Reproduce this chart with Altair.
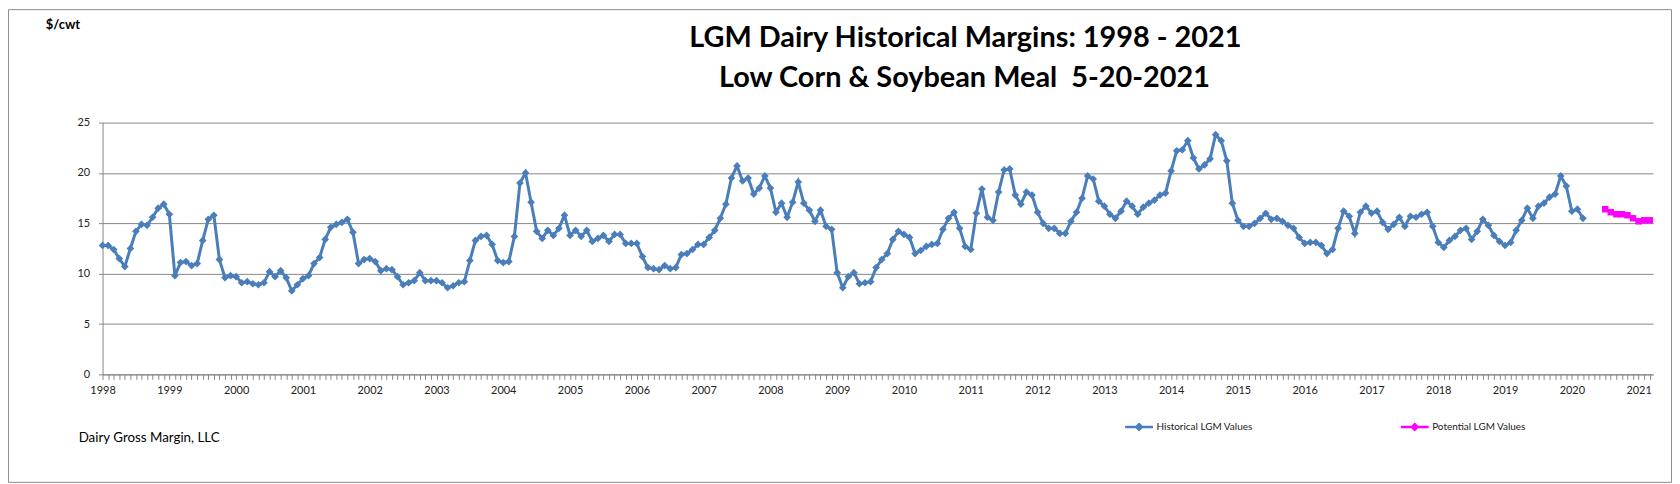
import altair as alt
import pandas as pd

# ---- data ----
y1998 = [12.8, 12.8, 12.4, 11.5, 10.7, 12.5, 14.2, 14.9, 14.8, 15.6, 16.5, 16.9]
y1999 = [15.9, 9.8, 11.1, 11.2, 10.8, 11.0, 13.3, 15.4, 15.8, 11.4, 9.6, 9.8]
y2000 = [9.7, 9.1, 9.2, 9.0, 8.9, 9.1, 10.2, 9.7, 10.3, 9.6, 8.3, 8.9]
y2001 = [9.5, 9.8, 11.0, 11.6, 13.4, 14.6, 14.9, 15.1, 15.4, 14.1, 11.0, 11.4]
y2002 = [11.5, 11.2, 10.3, 10.5, 10.4, 9.7, 8.9, 9.1, 9.3, 10.1, 9.3, 9.3]
y2003 = [9.3, 9.1, 8.6, 8.8, 9.1, 9.2, 11.3, 13.3, 13.7, 13.8, 12.9, 11.3]
y2004 = [11.1, 11.2, 13.7, 19.0, 20.0, 17.1, 14.2, 13.5, 14.3, 13.8, 14.5, 15.8]
y2005 = [13.8, 14.3, 13.7, 14.3, 13.2, 13.5, 13.8, 13.2, 13.9, 13.9, 13.0, 13.0]
y2006 = [13.0, 11.7, 10.6, 10.5, 10.4, 10.8, 10.5, 10.6, 11.9, 12.0, 12.4, 12.9]
y2007 = [12.9, 13.6, 14.3, 15.5, 16.9, 19.5, 20.7, 19.2, 19.5, 17.9, 18.5, 19.7]
y2008 = [18.5, 16.1, 17.0, 15.6, 17.1, 19.1, 17.0, 16.3, 15.2, 16.3, 14.7, 14.4]
y2009 = [10.1, 8.6, 9.7, 10.1, 9.0, 9.1, 9.2, 10.6, 11.4, 12.0, 13.4, 14.2]
y2010 = [13.9, 13.6, 12.0, 12.3, 12.7, 12.9, 13.0, 14.4, 15.5, 16.1, 14.5, 12.7]
y2011 = [12.4, 16.0, 18.4, 15.6, 15.3, 18.1, 20.3, 20.4, 17.8, 16.9, 18.1, 17.8]
y2012 = [16.1, 15.0, 14.5, 14.5, 14.0, 14.0, 15.2, 16.1, 17.5, 19.7, 19.4, 17.2]
y2013 = [16.7, 15.9, 15.5, 16.2, 17.2, 16.7, 15.9, 16.6, 17.0, 17.3, 17.8, 18.0]
y2014 = [20.2, 22.2, 22.3, 23.2, 21.5, 20.4, 20.8, 21.4, 23.8, 23.2, 21.2, 17.0]
y2015 = [15.3, 14.7, 14.7, 15.0, 15.5, 16.0, 15.4, 15.5, 15.2, 14.8, 14.5, 13.6]
y2016 = [13.0, 13.1, 13.1, 12.8, 12.0, 12.4, 14.5, 16.2, 15.7, 14.0, 16.1, 16.7]
y2017 = [16.0, 16.2, 15.1, 14.4, 14.9, 15.6, 14.7, 15.7, 15.6, 15.9, 16.1, 14.7]
y2018 = [13.1, 12.6, 13.3, 13.7, 14.3, 14.5, 13.4, 14.2, 15.4, 14.8, 13.8, 13.2]
y2019 = [12.8, 13.1, 14.3, 15.3, 16.5, 15.5, 16.7, 17.0, 17.6, 17.9, 19.7, 18.7]
y2020 = [16.2, 16.4, 15.5]

historical = (y1998 + y1999 + y2000 + y2001 + y2002 + y2003 + y2004 + y2005 +
              y2006 + y2007 + y2008 + y2009 + y2010 + y2011 + y2012 + y2013 +
              y2014 + y2015 + y2016 + y2017 + y2018 + y2019 + y2020)

potential = [16.4, 16.1, 15.9, 15.9, 15.8, 15.5, 15.2, 15.3, 15.3]
potential_start = 270          # month index (0 = Jan 1998)
last_month = 278.6             # right end of the category axis
first_year = 1998
y_ticks = [0, 5, 10, 15, 20, 25]

series_names = ["Historical LGM Values", "Potential LGM Values"]
series_colors = ["#4A7EBB", "#FF00FF"]

title_1 = "LGM Dairy Historical Margins: 1998 - 2021"
title_2 = "Low Corn & Soybean Meal\u00a0 5-20-2021"
unit_label = "$/cwt"
footer = "Dairy Gross Margin, LLC"

# ---- frames ----
hist_df = pd.DataFrame({"m": list(range(len(historical))), "v": historical,
                        "s": series_names[0]})
pot_df = pd.DataFrame({"m": [potential_start + i for i in range(len(potential))],
                       "v": potential, "s": series_names[1]})
df = pd.concat([hist_df, pot_df], ignore_index=True)

W, H = 1558, 253
FONT = "Lato"

x_enc = alt.X("m:Q",
              scale=alt.Scale(domain=[0, last_month], nice=False, zero=False),
              axis=alt.Axis(values=list(range(0, 279)),
                            labelExpr=f"datum.value % 12 == 0 ? '' + ({first_year} + datum.value / 12) : ''",
                            labelOverlap=False, grid=False, title=None,
                            tickSize=5, tickColor="#868686", domainColor="#868686",
                            labelFont=FONT, labelFontSize=11, labelColor="#222222",
                            labelPadding=5, labelFlush=False))
y_enc = alt.Y("v:Q",
              scale=alt.Scale(domain=[0, 25], nice=False),
              axis=alt.Axis(values=y_ticks, grid=True, gridColor="#868686",
                            title=None, tickSize=4, tickColor="#868686",
                            domainColor="#868686", labelFont=FONT, labelFontSize=11,
                            labelColor="#222222", labelPadding=9))
color_enc = alt.Color("s:N",
                      scale=alt.Scale(domain=series_names, range=series_colors),
                      legend=alt.Legend(
                          title=None, orient="none", legendX=1026, legendY=290,
                          direction="horizontal", columns=2, columnPadding=143,
                          symbolType="M-1,0L1,0M0,-0.2L0.2,0L0,0.2L-0.2,0Z",
                          symbolSize=784, symbolStrokeWidth=2.5,
                          labelFont=FONT, labelFontSize=10, labelColor="#222222",
                          labelOffset=2))
plain_color = alt.Color("s:N", scale=alt.Scale(domain=series_names, range=series_colors),
                        legend=None)

base = alt.Chart(df)

hist_line = base.transform_filter(alt.datum.s == series_names[0]).mark_line(
    strokeWidth=3).encode(x=x_enc, y=y_enc, color=color_enc)
pot_line = base.transform_filter(alt.datum.s == series_names[1]).mark_line(
    strokeWidth=1.5).encode(x=x_enc, y=y_enc, color=color_enc)
hist_pts = base.transform_filter(alt.datum.s == series_names[0]).mark_point(
    shape="diamond", filled=True, size=60, opacity=1).encode(
    x=x_enc, y=y_enc, color=plain_color)
pot_pts = base.transform_filter(alt.datum.s == series_names[1]).mark_point(
    shape="square", filled=True, size=42, opacity=1).encode(
    x=x_enc, y=y_enc, color=plain_color)

one = pd.DataFrame({"k": [0]})
frame = alt.Chart(one).mark_rect(fill="transparent", stroke="#8c8c8c", strokeWidth=1).encode(
    x=alt.value(-94.5), x2=alt.value(W + 18.5), y=alt.value(-113.5), y2=alt.value(H + 108.5))

t1 = alt.Chart(one).mark_text(text=title_1, font=FONT, fontSize=29, fontWeight="bold",
                              align="center", baseline="alphabetic", color="#000000").encode(
    x=alt.value(867), y=alt.value(-76))
t2 = alt.Chart(one).mark_text(text=title_2, font=FONT, fontSize=29, fontWeight="bold",
                              align="center", baseline="alphabetic", color="#000000").encode(
    x=alt.value(866), y=alt.value(-36))
unit = alt.Chart(one).mark_text(text=unit_label, font=FONT, fontSize=13, fontWeight="bold",
                                align="left", baseline="middle", color="#000000").encode(
    x=alt.value(-57), y=alt.value(-98))
foot = alt.Chart(one).mark_text(text=footer, font=FONT, fontSize=13.4,
                                align="left", baseline="middle", color="#000000").encode(
    x=alt.value(-24), y=alt.value(317))

chart = alt.layer(frame, hist_line, pot_line, hist_pts, pot_pts, t1, t2, unit, foot).properties(
    width=W, height=H,
    autosize=alt.AutoSizeParams(type="none"),
    padding={"left": 95, "top": 114, "right": 19, "bottom": 109},
    background="white",
).configure_view(stroke=None)

chart.save("out.html", embed_options={"renderer": "svg", "actions": False})
